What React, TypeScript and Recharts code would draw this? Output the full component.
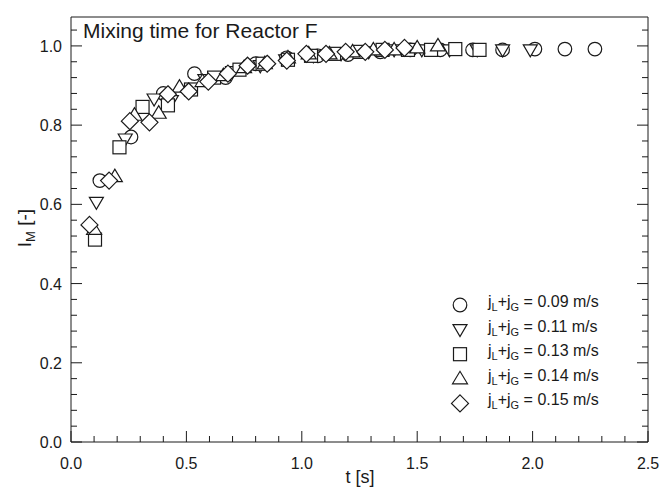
import React from 'react';
import { ScatterChart, Scatter, XAxis, YAxis, Legend } from 'recharts';

const FONT = '"Liberation Sans", Arial, Helvetica, sans-serif';
const INK = '#1a1a1a';

// tick values
const xTicks = [0, 0.1, 0.2, 0.3, 0.4, 0.5, 0.6, 0.7, 0.8, 0.9, 1.0, 1.1, 1.2, 1.3, 1.4, 1.5, 1.6, 1.7, 1.8, 1.9, 2.0, 2.1, 2.2, 2.3, 2.4, 2.5];
const xMajor = [0, 0.5, 1.0, 1.5, 2.0, 2.5];
const yTicks = [0, 0.04, 0.08, 0.12, 0.16, 0.2, 0.24, 0.28, 0.32, 0.36, 0.4, 0.44, 0.48, 0.52, 0.56, 0.6, 0.64, 0.68, 0.72, 0.76, 0.8, 0.84, 0.88, 0.92, 0.96, 1.0, 1.04];
const yMajor = [0, 0.2, 0.4, 0.6, 0.8, 1.0];

// series: j_L + j_G = 0.09 m/s (circles)
const circleT = [0.125, 0.26, 0.40, 0.535, 0.67, 0.80, 0.935, 1.07, 1.20, 1.34, 1.47, 1.60, 1.74, 1.87, 2.01, 2.14, 2.27];
const circleI = [0.66, 0.77, 0.88, 0.93, 0.92, 0.955, 0.97, 0.975, 0.978, 0.985, 0.99, 0.99, 0.99, 0.99, 0.992, 0.992, 0.992];
// 0.11 m/s (triangle down)
const triDownT = [0.11, 0.235, 0.36, 0.435, 0.58, 0.70, 0.82, 0.93, 1.05, 1.17, 1.29, 1.40, 1.52, 1.64, 1.76, 1.87, 1.99];
const triDownI = [0.605, 0.765, 0.866, 0.862, 0.915, 0.935, 0.95, 0.965, 0.975, 0.98, 0.985, 0.99, 0.99, 0.99, 0.99, 0.99, 0.99];
// 0.13 m/s (squares)
const squareT = [0.104, 0.21, 0.31, 0.42, 0.52, 0.62, 0.73, 0.83, 0.94, 1.04, 1.14, 1.25, 1.35, 1.46, 1.56, 1.665, 1.77];
const squareI = [0.511, 0.744, 0.846, 0.85, 0.89, 0.92, 0.94, 0.955, 0.965, 0.975, 0.98, 0.985, 0.99, 0.99, 0.99, 0.992, 0.99];
// 0.14 m/s (triangle up)
const triUpT = [0.10, 0.19, 0.275, 0.38, 0.47, 0.57, 0.66, 0.75, 0.84, 0.94, 1.03, 1.12, 1.22, 1.31, 1.40, 1.50, 1.59];
const triUpI = [0.537, 0.67, 0.825, 0.83, 0.896, 0.91, 0.925, 0.945, 0.955, 0.97, 0.98, 0.98, 0.985, 0.99, 0.99, 0.995, 1.0];
// 0.15 m/s (diamonds)
const diamondT = [0.08, 0.165, 0.255, 0.34, 0.42, 0.51, 0.595, 0.68, 0.765, 0.85, 0.935, 1.02, 1.105, 1.19, 1.275, 1.36, 1.445];
const diamondI = [0.548, 0.66, 0.81, 0.807, 0.878, 0.885, 0.91, 0.93, 0.95, 0.955, 0.963, 0.98, 0.98, 0.985, 0.985, 0.99, 0.995];

const seriesLabels = ['0.09', '0.11', '0.13', '0.14', '0.15'];

const toData = (t: number[], v: number[]) => t.map((tt, i) => ({ t: tt, I: v[i] }));

const isMajor = (v: number, majors: number[]) => majors.some((m) => Math.abs(m - v) < 1e-6);

type Kind = 'circle' | 'down' | 'square' | 'up' | 'diamond';

function Marker({ kind, cx, cy }: { kind: Kind; cx: number; cy: number }) {
  const common = { fill: '#fff', stroke: INK, strokeWidth: 1.2 };
  if (kind === 'circle') return <circle cx={cx} cy={cy} r={6.8} {...common} />;
  if (kind === 'square') return <rect x={cx - 6.5} y={cy - 6.5} width={13} height={13} {...common} />;
  if (kind === 'down')
    return <polygon points={`${cx - 7},${cy - 5} ${cx + 7},${cy - 5} ${cx},${cy + 7}`} {...common} />;
  if (kind === 'up')
    return <polygon points={`${cx - 7.5},${cy + 5} ${cx + 7.5},${cy + 5} ${cx},${cy - 7.5}`} {...common} />;
  return <polygon points={`${cx},${cy - 8.5} ${cx + 8.5},${cy} ${cx},${cy + 8.5} ${cx - 8.5},${cy}`} {...common} />;
}

const shapeFor = (kind: Kind) => (props: any) => <Marker kind={kind} cx={props.cx} cy={props.cy} />;

function BottomTick(props: any) {
  const { x, y, payload } = props;
  const major = isMajor(payload.value, xMajor);
  return (
    <g>
      <line x1={x} x2={x} y1={y} y2={y - (major ? 11 : 6)} stroke={INK} strokeWidth={1} />
      {major && (
        <text x={x} y={y + 27} textAnchor="middle" fontSize={16} fontFamily={FONT} fill={INK}>
          {payload.value.toFixed(1)}
        </text>
      )}
    </g>
  );
}

function TopTick(props: any) {
  const { x, y, payload } = props;
  const major = isMajor(payload.value, xMajor);
  return <line x1={x} x2={x} y1={y} y2={y + (major ? 11 : 6)} stroke={INK} strokeWidth={1} />;
}

function LeftTick(props: any) {
  const { x, y, payload } = props;
  const major = isMajor(payload.value, yMajor);
  return (
    <g>
      <line x1={x} x2={x + (major ? 11 : 6)} y1={y} y2={y} stroke={INK} strokeWidth={1} />
      {major && (
        <text x={x - 9} y={y + 6} textAnchor="end" fontSize={16} fontFamily={FONT} fill={INK}>
          {payload.value.toFixed(1)}
        </text>
      )}
    </g>
  );
}

function RightTick(props: any) {
  const { x, y, payload } = props;
  const major = isMajor(payload.value, yMajor);
  return <line x1={x} x2={x - (major ? 11 : 6)} y1={y} y2={y} stroke={INK} strokeWidth={1} />;
}

const kinds: Kind[] = ['circle', 'down', 'square', 'up', 'diamond'];

function LegendBox() {
  return (
    <svg width={200} height={130} style={{ display: 'block', overflow: 'visible' }}>
      {kinds.map((k, i) => {
        const cy = 15 + i * 24.6;
        return (
          <g key={k}>
            <Marker kind={k} cx={20} cy={cy} />
            <text x={48} y={cy + 2} fontSize={16} fontFamily={FONT} fill={INK} style={{ whiteSpace: 'pre' }}>
              j
              <tspan fontSize={11} dy={4}>L</tspan>
              <tspan dy={-4}>+j</tspan>
              <tspan fontSize={11} dy={4}>G</tspan>
              <tspan dy={-4}>{` = ${seriesLabels[i]} m/s`}</tspan>
            </text>
          </g>
        );
      })}
    </svg>
  );
}

export default function App() {
  return (
    <div style={{ position: 'absolute', left: 0, top: 0, width: 662, height: 493, background: '#fff' }}>
      <ScatterChart width={662} height={493} margin={{ top: 7, right: 4, bottom: 21, left: 11 }}>
        <XAxis
          xAxisId="b"
          dataKey="t"
          type="number"
          domain={[0, 2.5]}
          ticks={xTicks}
          interval={0}
          height={30}
          tickSize={0}
          tickMargin={0}
          tickLine={false}
          axisLine={{ stroke: INK }}
          tick={<BottomTick />}
          allowDataOverflow
          label={{
            content: () => (
              <text x={360} y={483} textAnchor="middle" fontSize={18} fontFamily={FONT} fill={INK}>
                t [s]
              </text>
            ),
          }}
        />
        <XAxis
          xAxisId="top"
          orientation="top"
          type="number"
          domain={[0, 2.5]}
          ticks={xTicks}
          interval={0}
          height={10}
          tickSize={0}
          tickMargin={0}
          tickLine={false}
          axisLine={{ stroke: INK }}
          tick={<TopTick />}
          allowDataOverflow
          label={{
            content: () => (
              <text x={83} y={38} fontSize={21} fontFamily={FONT} fill={INK}>
                Mixing time for Reactor F
              </text>
            ),
          }}
        />
        <YAxis
          yAxisId="l"
          dataKey="I"
          type="number"
          domain={[0, 1.073]}
          ticks={yTicks}
          interval={0}
          width={60}
          tickSize={0}
          tickMargin={0}
          tickLine={false}
          axisLine={{ stroke: INK }}
          tick={<LeftTick />}
          allowDataOverflow
          label={{
            content: () => (
              <text
                x={31}
                y={228}
                transform="rotate(-90, 31, 228)"
                textAnchor="middle"
                fontSize={19}
                fontFamily={FONT}
                fill={INK}
                style={{ whiteSpace: 'pre' }}
              >
                I<tspan fontSize={13} dy={4}>M</tspan>
                <tspan dy={-4}> [-]</tspan>
              </text>
            ),
          }}
        />
        <YAxis
          yAxisId="r"
          orientation="right"
          type="number"
          domain={[0, 1.073]}
          ticks={yTicks}
          interval={0}
          width={10}
          tickSize={0}
          tickMargin={0}
          tickLine={false}
          axisLine={{ stroke: INK }}
          tick={<RightTick />}
          allowDataOverflow
        />
        <Scatter xAxisId="b" yAxisId="l" name="0.09" data={toData(circleT, circleI)} shape={shapeFor('circle')} isAnimationActive={false} />
        <Scatter xAxisId="b" yAxisId="l" name="0.11" data={toData(triDownT, triDownI)} shape={shapeFor('down')} isAnimationActive={false} />
        <Scatter xAxisId="b" yAxisId="l" name="0.13" data={toData(squareT, squareI)} shape={shapeFor('square')} isAnimationActive={false} />
        <Scatter xAxisId="b" yAxisId="l" name="0.14" data={toData(triUpT, triUpI)} shape={shapeFor('up')} isAnimationActive={false} />
        <Scatter xAxisId="b" yAxisId="l" name="0.15" data={toData(diamondT, diamondI)} shape={shapeFor('diamond')} isAnimationActive={false} />
        <Legend
          layout="vertical"
          align="center"
          verticalAlign="middle"
          content={() => <LegendBox />}
          wrapperStyle={{ position: 'absolute', left: 440, top: 290, width: 200, height: 130 }}
        />
      </ScatterChart>
    </div>
  );
}
